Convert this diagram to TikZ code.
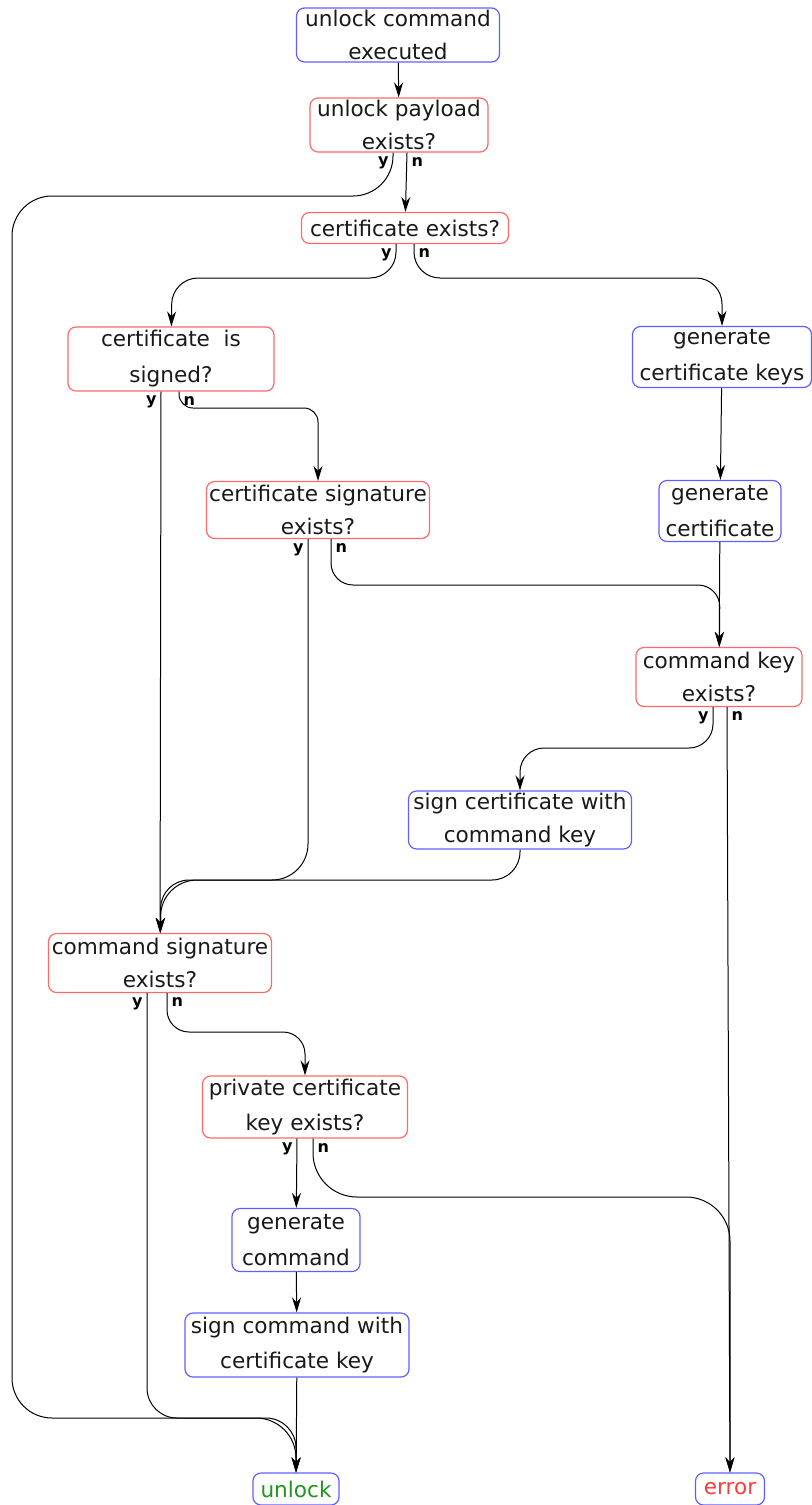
\documentclass[tikz,border=0pt]{standalone}
\usepackage{fontspec}
\setmainfont{DejaVu Sans}
\usetikzlibrary{arrows.meta}
\definecolor{actblue}{RGB}{95,95,255}
\definecolor{condred}{RGB}{255,105,105}
\definecolor{okgreen}{RGB}{30,150,30}
\definecolor{errred}{RGB}{255,60,60}

\begin{document}
\begin{tikzpicture}[
            x=0.5pt, y=-0.5pt,
            box/.style={draw, rounded corners=4pt, align=center, inner sep=1pt,
                line width=0.6pt, text=black!90,
                font=\fontsize{10.8}{16.5}\selectfont},
            cond/.style={box, draw=condred},
            act/.style={box, draw=actblue},
            edge/.style={line width=0.5pt, -{Stealth[length=7.5pt,width=4.5pt]}},
            ylab/.style={font=\fontsize{8}{9}\selectfont\bfseries,
                anchor=north east, inner sep=2pt},
            nlab/.style={ylab, anchor=north west}
        ]
            \useasboundingbox (0,0) rectangle (811,1505);
            % actions and checks
            \node [act, minimum width=101.5pt, minimum height=27pt] (start) at (398,35) {unlock command\\executed};
            \node [cond, minimum width=89pt, minimum height=27pt] (payload) at (399,125) {unlock payload\\exists?};
            \node [cond, minimum width=103.5pt, minimum height=15.5pt] (certexists) at (405,228) {certificate exists?};
            \node [cond, minimum width=103pt, minimum height=32pt] (signed) at (171,359) {certificate~ is\\[1.5pt]signed?};
            \node [act, minimum width=89.5pt, minimum height=30.5pt] (genkeys) at (722,357) {generate\\[1.5pt]certificate keys};
            \node [cond, minimum width=111.5pt, minimum height=28.5pt] (sigexists) at (318,510) {certificate signature\\exists?};
            \node [act, minimum width=61pt, minimum height=30.5pt] (gencert) at (720,511) {generate\\[1.5pt]certificate};
            \node [cond, minimum width=83pt, minimum height=29.5pt] (cmdkey) at (719,677) {command key\\exists?};
            \node [act, minimum width=111.5pt, minimum height=28.5pt] (signcert) at (520,820) {sign certificate with\\command key};
            \node [cond, minimum width=111.5pt, minimum height=29.5pt] (cmdsig) at (160,963) {command signature\\exists?};
            \node [cond, minimum width=102.5pt, minimum height=31pt] (privkey) at (305,1107) {private certificate\\[1pt]key exists?};
            \node [act, minimum width=64pt, minimum height=31.5pt] (gencmd) at (296,1240) {generate\\[1.5pt]command};
            \node [act, minimum width=112pt, minimum height=32pt] (signcmd) at (297,1345) {sign command with\\[1pt]certificate key};
            \node [act, minimum width=43pt, minimum height=16pt, text=okgreen] (unlock) at (296,1489) {unlock};
            \node [act, minimum width=34.5pt, minimum height=16pt, text=errred] (error) at (730,1489) {error};

            % connectors
            \draw [edge] (start) -- (payload);
            \draw [edge, rounded corners=20pt] ([xshift=-3pt]payload.south) node[ylab]{y}
                |- (12,196) |- (296,1418) -- (unlock);
            \draw [edge] ([xshift=4pt]payload.south) node[nlab]{n} -- (certexists);
            \draw [edge, rounded corners=13pt] ([xshift=-4.5pt]certexists.south) node[ylab]{y}
                |- (172,278) -- (signed);
            \draw [edge, rounded corners=13pt] ([xshift=4.5pt]certexists.south) node[nlab]{n}
                |- (722,278) -- (genkeys);
            \draw [edge] ([xshift=-5pt]signed.south) node[ylab]{y} -- (cmdsig);
            \draw [edge, rounded corners=7pt] ([xshift=4pt]signed.south) node[nlab]{n}
                |- (318,408) -- (sigexists);
            \draw [edge] (genkeys) -- (gencert);
            \draw [edge, rounded corners=18pt] ([xshift=-5pt]sigexists.south) node[ylab]{y}
                |- (161,880) -- (cmdsig);
            \draw [edge, rounded corners=11pt] ([xshift=6.5pt]sigexists.south) node[nlab]{n}
                |- (720,585) -- (cmdkey);
            \draw [edge] (gencert) -- (cmdkey);
            \draw [edge, rounded corners=12pt] ([xshift=-3pt]cmdkey.south) node[ylab]{y}
                |- (520,748) -- (signcert);
            \draw [edge] ([xshift=4pt]cmdkey.south) node[nlab]{n} -- (error);
            \draw [edge, rounded corners=14pt] (signcert) |- (161,880) -- (cmdsig);
            \draw [edge, rounded corners=15pt] ([xshift=-6.5pt]cmdsig.south) node[ylab]{y}
                |- (296,1418) -- (unlock);
            \draw [edge, rounded corners=11pt] ([xshift=3.5pt]cmdsig.south) node[nlab]{n}
                |- (305,1032) -- (privkey);
            \draw [edge] ([xshift=-4pt]privkey.south) node[ylab]{y} -- (gencmd);
            \draw [edge, rounded corners=22pt] ([xshift=4pt]privkey.south) node[nlab]{n}
                |- (730,1197) -- (error);
            \draw [edge] (gencmd) -- (signcmd);
            \draw [edge] (signcmd) -- (unlock);
        \end{tikzpicture}
\end{document}
